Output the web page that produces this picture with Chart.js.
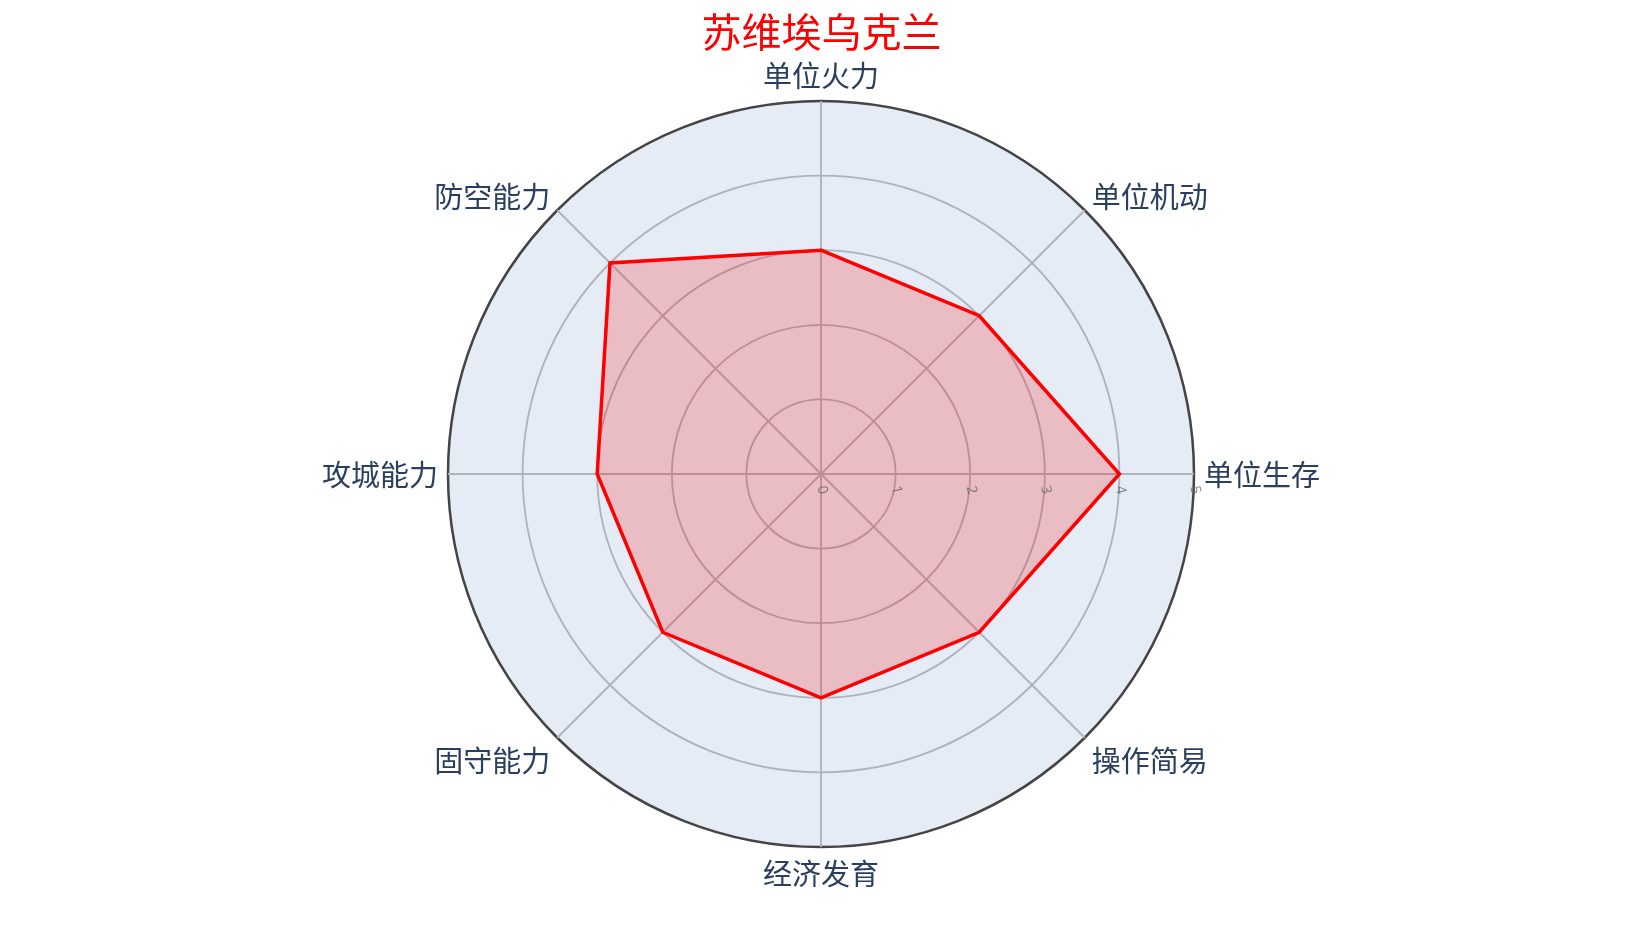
<!DOCTYPE html>
<html>
<head>
<meta charset="utf-8">
<script src="https://cdn.jsdelivr.net/npm/chart.js@4.4.1/dist/chart.umd.min.js"></script>
<style>
  html, body { margin: 0; padding: 0; background: #ffffff; }
  #wrap { width: 1643px; height: 929px; }
</style>
</head>
<body>
<div id="wrap"><canvas id="c" width="1643" height="929"></canvas></div>
<script>
const chartTitle = '苏维埃乌克兰';
const categories = ['单位火力', '单位机动', '单位生存', '操作简易', '经济发育', '固守能力', '攻城能力', '防空能力'];
const seriesValues = [3, 3, 4, 3, 3, 3, 3, 4];
const tickValues = [0, 1, 2, 3, 4, 5];
const tickAxisIndex = 2; // ticks drawn along 单位生存 axis

const FONT = '"Open Sans", "Noto Sans CJK SC", sans-serif';

const polarBg = {
  id: 'polarBg',
  beforeDraw(chart) {
    const s = chart.scales.r;
    const ctx = chart.ctx;
    ctx.save();
    ctx.beginPath();
    ctx.arc(s.xCenter, s.yCenter, s.drawingArea, 0, Math.PI * 2);
    ctx.fillStyle = '#E5ECF6';
    ctx.fill();
    ctx.restore();
  }
};

const customLabels = {
  id: 'customLabels',
  afterDraw(chart) {
    const s = chart.scales.r;
    const ctx = chart.ctx;
    ctx.save();
    // point labels
    ctx.font = '29px ' + FONT;
    ctx.fillStyle = '#2a3f5f';
    ctx.textBaseline = 'middle';
    chart.data.labels.forEach((lab, i) => {
      const p = s.getPointPosition(i, s.drawingArea + 10);
      const ux = (p.x - s.xCenter) / (s.drawingArea + 10);
      const uy = (p.y - s.yCenter) / (s.drawingArea + 10);
      ctx.textAlign = ux > 0.1 ? 'left' : (ux < -0.1 ? 'right' : 'center');
      ctx.fillText(lab, p.x, p.y + 16 * uy + 4 + 8 * Math.abs(ux * uy));
    });
    // radial tick labels
    ctx.font = '14px ' + FONT;
    ctx.fillStyle = 'rgba(100,100,100,0.8)';
    ctx.textAlign = 'center';
    ctx.textBaseline = 'middle';
    tickValues.forEach(v => {
      const p = s.getPointPositionForValue(tickAxisIndex, v);
      ctx.save();
      ctx.translate(p.x + 1, p.y + 16);
      ctx.rotate(Math.PI / 2 * 0.85);
      ctx.fillText(String(v), 0, 0);
      ctx.restore();
    });
    ctx.restore();
  }
};

new Chart(document.getElementById('c'), {
  type: 'radar',
  data: {
    labels: categories,
    datasets: [{
      label: chartTitle,
      data: seriesValues,
      borderColor: '#ff0000',
      backgroundColor: 'rgba(255,0,0,0.2)',
      borderWidth: 3.5,
      pointRadius: 0,
      pointHoverRadius: 0,
      fill: true,
      tension: 0
    }]
  },
  options: {
    responsive: false,
    animation: false,
    layout: { padding: { top: 0, bottom: 82, left: 0, right: 0 } },
    plugins: {
      legend: { display: false },
      tooltip: { enabled: false },
      title: {
        display: true,
        text: chartTitle,
        color: '#ff0000',
        font: { size: 40, family: FONT, weight: 'normal' },
        padding: { top: 12, bottom: 41 }
      }
    },
    scales: {
      r: {
        min: 0,
        max: 5,
        beginAtZero: true,
        ticks: { display: false, stepSize: 1 },
        pointLabels: { display: false },
        grid: {
          circular: true,
          color: ctx => (ctx.tick && ctx.tick.value === 5) ? '#444444' : '#adb2bb',
          lineWidth: ctx => (ctx.tick && ctx.tick.value === 5) ? 2.5 : 1.8
        },
        angleLines: { color: '#adb2bb', lineWidth: 1.8 }
      }
    }
  },
  plugins: [polarBg, customLabels]
});
</script>
</body>
</html>
